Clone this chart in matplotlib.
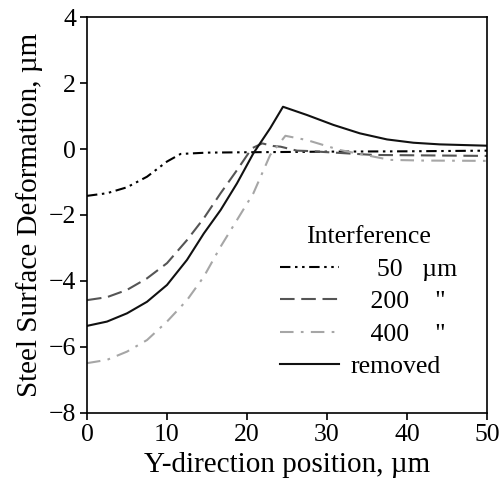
import matplotlib
matplotlib.use("Agg")
import matplotlib.pyplot as plt

plt.rcParams['font.family'] = ['Liberation Serif', 'DejaVu Serif']

# Data
x50 = [0, 2.5, 5, 7.5, 10, 11.7, 15, 19.2, 25, 30, 40, 50]
y50 = [-1.42, -1.34, -1.16, -0.84, -0.38, -0.15, -0.11, -0.10, -0.09, -0.08, -0.07, -0.05]

x200 = [0, 2.5, 5, 7.5, 10, 12.5, 14.6, 16.7, 18.75, 20.6, 21.9, 23.3, 24.2, 26.25, 27.5, 35.8, 50]
y200 = [-4.58, -4.49, -4.27, -3.92, -3.46, -2.76, -2.10, -1.34, -0.64, 0.02, 0.17, 0.09, 0.07, -0.05, -0.06, -0.18, -0.21]

x400 = [0, 2.5, 5, 7.5, 10, 12.5, 14.6, 16.7, 18.75, 20.8, 22.9, 24.8, 27.5, 31.6, 35.8, 37.9, 42, 50]
y400 = [-6.49, -6.39, -6.14, -5.79, -5.23, -4.58, -3.87, -2.96, -2.15, -1.34, -0.18, 0.40, 0.27, -0.03, -0.23, -0.33, -0.35, -0.36]

xrem = [0, 2.5, 5, 7.5, 10, 12.5, 14.6, 16.7, 18.75, 20.8, 22.9, 24.5, 27.5, 30.8, 34.1, 37.5, 40.8, 44.1, 50]
yrem = [-5.36, -5.23, -4.98, -4.63, -4.12, -3.36, -2.56, -1.85, -1.04, -0.13, 0.63, 1.28, 1.03, 0.73, 0.475, 0.29, 0.19, 0.14, 0.10]

labels = ['    50   \u00b5m', '   200    "', '   400    "', 'removed']
legend_title = 'Interference'
xticks = [0, 10, 20, 30, 40, 50]
yticks = [-8, -6, -4, -2, 0, 2, 4]

fig = plt.figure(figsize=(5.0, 4.93), dpi=100)
ax = fig.add_axes([0.174, 0.1623, 0.80, 0.8032])

l1, = ax.plot(x50, y50, color='black', lw=1.5, linestyle=(0, (5, 2.2, 1.2, 2.2, 1.2, 2.2)))
l2, = ax.plot(x200, y200, color='#555555', lw=1.5, linestyle=(0, (7, 3.2)))
l3, = ax.plot(x400, y400, color='#a6a6a6', lw=1.5, linestyle=(0, (6.5, 3.5, 1.3, 3.5)))
l4, = ax.plot(xrem, yrem, color='#111111', lw=1.5)

ax.set_xlim(0, 50)
ax.set_ylim(-8, 4)
ax.set_xticks(xticks)
ax.set_yticks(yticks)
ax.tick_params(axis='both', direction='out', length=5, width=1.2, labelsize=18.5,
               top=False, right=False, pad=3)
for s in ax.spines.values():
    s.set_linewidth(1.2)

ax.set_xlabel('Y-direction position, \u00b5m', fontsize=21, labelpad=4)
ax.set_ylabel('Steel Surface Deformation, \u00b5m', fontsize=21, labelpad=4)

leg = ax.legend([l1, l2, l3, l4], labels, title=legend_title, frameon=False,
                fontsize=18.5, title_fontsize=18.5, loc='upper left',
                bbox_to_anchor=(0.4825, 0.472), handlelength=2.3, handletextpad=0.45,
                labelspacing=0.37, borderaxespad=0, borderpad=0)
leg._legend_box.sep = 7
fig.savefig('out.png', dpi=100)
